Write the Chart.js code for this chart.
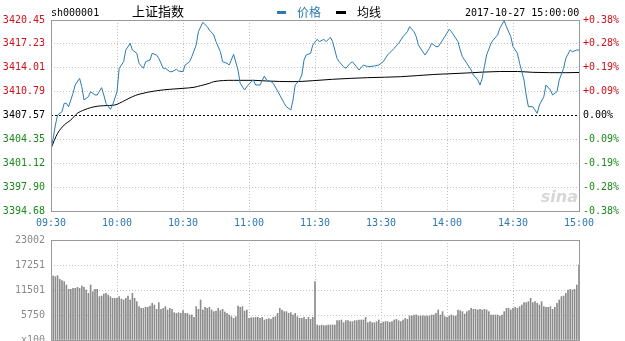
<!DOCTYPE html>
<html>
<head>
<meta charset="utf-8">
<script src="https://cdn.jsdelivr.net/npm/chart.js@4/dist/chart.umd.min.js"></script>
<style>
    body { margin: 0; background: #fff; width: 625px; height: 341px; overflow: hidden; position: relative; font-family: "DejaVu Sans Mono", monospace; }
    #priceChart { position: absolute; left: 0; top: 0; }
    #volChart { position: absolute; left: 0; top: 225px; }
    .t { position: absolute; white-space: nowrap; font-size: 10px; line-height: 12px; color: #000; }
    .cn { font-family: "Noto Sans CJK SC", sans-serif; }
    .dash { position: absolute; height: 3px; }
</style>
</head>
<body>
<canvas id="priceChart" width="625" height="232"></canvas>
<canvas id="volChart" width="625" height="116"></canvas>

<div class="t" style="left:51px;top:7px;">sh000001</div>
<div class="t cn" style="left:132px;top:3px;font-size:13px;line-height:16px;">上证指数</div>
<div class="dash" style="left:277px;top:11px;width:9px;background:#2b7bb0;"></div>
<div class="t cn" style="left:297px;top:4px;font-size:12px;line-height:16px;color:#2b7bb0;">价格</div>
<div class="dash" style="left:336px;top:11px;width:10px;background:#000;"></div>
<div class="t cn" style="left:357px;top:4px;font-size:12px;line-height:16px;">均线</div>
<div class="t" style="left:465px;top:7px;">2017-10-27 15:00:00</div>

<script>
'use strict';

// Previous close (0.00% line)
const prevClose = 3407.57;

// Time axis (minutes from 09:30, lunch break removed)
const timeTicks = [0, 30, 60, 90, 120, 150, 180, 210, 240];
const timeLabels = ['09:30', '10:00', '10:30', '11:00', '11:30', '13:30', '14:00', '14:30', '15:00'];

// Price axis ticks
const priceTicks = [3394.68, 3397.90, 3401.12, 3404.35, 3407.57, 3410.79, 3414.01, 3417.23, 3420.45];
const pctLabels = ['-0.38%', '-0.28%', '-0.19%', '-0.09%', '0.00%', '+0.09%', '+0.19%', '+0.28%', '+0.38%'];

// Price line (minute, value)
const priceMinutes = [0, 1, 2, 3, 5, 6, 7, 8, 10, 11, 13, 14, 15, 17, 18, 20, 21, 23, 24, 25, 27, 28, 30, 31, 33, 34, 36, 37, 39, 40,
    42, 43, 45, 46, 48, 49, 51, 52, 54, 55, 57, 58, 60, 61, 63, 64, 66, 67, 69, 71, 72, 74, 75, 77, 78, 80, 81, 83, 85, 86,
    88, 89, 91, 92, 93, 95, 97, 98, 100, 101, 104, 106, 107, 109, 110, 111, 113, 114, 115, 116, 118, 119, 121, 122, 124, 125, 127, 128, 130, 131,
    133, 134, 136, 137, 140, 142, 144, 147, 149, 151, 153, 156, 158, 160, 162, 163, 165, 166, 167, 169, 170, 172, 173, 175, 176, 178, 179, 181, 182, 183,
    185, 186, 187, 189, 191, 192, 194, 195, 196, 197, 198, 200, 201, 203, 204, 206, 207, 209, 210, 212, 213, 215, 216, 217, 219, 221, 222, 224, 225, 227,
    228, 230, 231, 233, 234, 236, 237, 239, 240];
const priceValues = [3403.14, 3404.49, 3406.28, 3407.63, 3408.08, 3409.21, 3409.21, 3408.75, 3410.56, 3411.68, 3412.58, 3411.45, 3409.66, 3410.10, 3410.78, 3410.33, 3410.33, 3411.32, 3410.33, 3409.21, 3408.40, 3408.98, 3410.78, 3413.93, 3414.82, 3416.40, 3417.31, 3416.40, 3415.96, 3414.61,
    3413.93, 3414.82, 3415.05, 3415.96, 3415.73, 3415.28, 3413.93, 3413.93, 3413.47, 3413.47, 3413.80, 3413.57, 3413.47, 3414.38, 3414.82, 3415.50, 3417.08, 3418.87, 3420.14, 3419.55, 3419.10, 3418.43, 3417.52, 3416.17, 3414.82, 3414.61, 3414.38, 3415.82, 3413.70, 3411.91,
    3411.01, 3411.45, 3412.13, 3412.35, 3411.68, 3411.68, 3412.89, 3412.35, 3412.13, 3411.91, 3410.33, 3409.21, 3408.75, 3408.31, 3409.66, 3411.68, 3412.35, 3413.03, 3415.05, 3415.73, 3415.96, 3417.08, 3417.85, 3417.52, 3417.85, 3417.52, 3418.12, 3417.52, 3415.28, 3414.82,
    3414.15, 3413.93, 3414.61, 3414.82, 3413.70, 3414.38, 3414.15, 3414.24, 3414.38, 3414.82, 3415.73, 3416.63, 3417.31, 3418.20, 3418.87, 3419.55, 3418.87, 3418.20, 3417.08, 3416.17, 3415.73, 3416.63, 3417.31, 3416.85, 3416.85, 3417.75, 3418.20, 3419.20, 3418.87, 3418.43,
    3417.52, 3416.40, 3415.50, 3414.61, 3413.70, 3413.03, 3412.35, 3411.68, 3412.58, 3414.15, 3415.73, 3417.31, 3417.75, 3418.43, 3419.33, 3420.36, 3419.55, 3418.20, 3416.85, 3415.96, 3414.61, 3412.35, 3410.33, 3408.75, 3408.75, 3407.86, 3408.98, 3410.10, 3411.68, 3411.01,
    3410.33, 3410.78, 3412.35, 3413.93, 3415.28, 3416.40, 3416.17, 3416.40, 3416.40];

// Average price line (minute, value)
const avgMinutes = [0, 3, 6, 9, 12, 15, 18, 21, 24, 29, 31, 34, 37, 40, 48, 54, 60, 65, 68, 72, 74, 83, 92, 98, 110, 119, 128, 144, 159, 174, 189, 204, 212, 219, 234, 240];
const avgValues = [3403.14, 3405.16, 3406.28, 3406.96, 3407.86, 3408.31, 3408.62, 3408.81, 3408.89, 3408.98, 3409.21, 3409.66, 3410.10, 3410.43, 3410.91, 3411.10, 3411.23, 3411.37, 3411.59, 3411.91,
    3412.13, 3412.31, 3412.31, 3412.22, 3412.13, 3412.26, 3412.45, 3412.67, 3412.80, 3413.10, 3413.30, 3413.50, 3413.50, 3413.39, 3413.34, 3413.37];

// Volume axis
const volTicks = [0, 5750, 11501, 17251, 23002];
const volTickLabels = ['x100', '5750', '11501', '17251', '23002'];

// Volume per minute, 09:30 .. 11:30 (m0..m120)
const volMorning = [14500, 14720, 14570, 14800, 13950, 13650, 13420, 12650, 11650, 11650, 11880, 11880, 12110, 11880, 12420, 12110, 11500, 10730, 12650, 11120,
    11650, 11650, 9970, 10120, 10580, 10730, 10350, 9970, 9580, 9580, 9580, 9970, 9430, 9200, 9580, 10120, 9200, 10730, 9580, 8820,
    7670, 7280, 7280, 7510, 7510, 7820, 8430, 8050, 7050, 8590, 7050, 7280, 7670, 6900, 7280, 7050, 6290, 6130, 6290, 6130,
    6750, 6130, 6130, 5750, 5750, 5210, 7670, 7050, 9200, 6900, 7510, 7280, 7510, 6900, 6520, 6670, 7280, 6750, 7050, 6440,
    6130, 5750, 5370, 4980, 5370, 7820, 7510, 7670, 6670, 6900, 4980, 5140, 5140, 5210, 5210, 4980, 5210, 4600, 4750, 4910,
    4750, 5210, 5370, 6130, 7280, 6900, 6520, 6520, 6130, 6290, 5750, 6130, 5370, 4980, 4980, 5210, 4750, 5210, 4750, 5210,
    13420];
// Volume per minute, 13:01 .. 15:00 (m121..m240)
const volAfternoon = [3450, 3300, 3450, 3300, 3300, 3450, 3450, 3450, 3450, 4450, 4450, 4600, 3990, 4450, 4450, 4220, 4220, 4450, 4450, 4600,
    4600, 4600, 5210, 3990, 4220, 3990, 3990, 4220, 4600, 3830, 4140, 4220, 4220, 4060, 4220, 4600, 4750, 4450, 4220, 4600,
    4980, 4750, 5520, 5520, 5750, 5750, 5520, 5520, 5520, 5520, 5520, 5520, 5750, 5750, 6130, 6900, 5750, 6520, 5370, 5210,
    5520, 5750, 5520, 5520, 6900, 6750, 6520, 5980, 6520, 6750, 7280, 7050, 7050, 6900, 7050, 6900, 7050, 6900, 6520, 5750,
    5750, 5750, 5750, 5520, 5750, 6520, 7280, 7280, 6900, 7280, 7510, 7280, 7670, 8050, 8590, 8590, 8820, 9580, 8590, 8820,
    8430, 8050, 8820, 7670, 7510, 7510, 7670, 7050, 7510, 8430, 9200, 9970, 10120, 10730, 11500, 11650, 11500, 11650, 12650, 17250];

const volumes = volMorning.concat(volAfternoon);

const monoFont = { family: 'DejaVu Sans Mono', size: 10 };
const gridGray = '#c4c4c4';

function priceColor(v) {
    if (Math.abs(v - prevClose) < 0.001) return '#000';
    return v > prevClose ? '#d0101a' : '#1a8a1a';
}

// Frame, time grid, previous-close line and watermark
const framePlugin = {
    id: 'frame',
    beforeDatasetsDraw(chart, args, opts) {
        const a = chart.chartArea;
        const ctx = chart.ctx;
        ctx.save();
        ctx.lineWidth = 1;
        if (opts.timeGrid) {
            // vertical dotted lines at the time ticks
            ctx.strokeStyle = gridGray;
            ctx.setLineDash([1, 2]);
            timeTicks.forEach((t) => {
                const x = Math.round(chart.scales.x.getPixelForValue(t)) + 0.5;
                ctx.beginPath();
                ctx.moveTo(x, a.top);
                ctx.lineTo(x, a.bottom);
                ctx.stroke();
            });
        }
        if (opts.zeroLine) {
            const y = Math.round(chart.scales.y.getPixelForValue(prevClose)) + 0.5;
            ctx.strokeStyle = '#000';
            ctx.setLineDash([2, 2]);
            ctx.beginPath();
            ctx.moveTo(a.left, y);
            ctx.lineTo(a.right, y);
            ctx.stroke();
            ctx.setLineDash([]);
            ctx.font = 'italic bold 16px "DejaVu Sans"';
            ctx.fillStyle = 'rgba(175,175,175,0.5)';
            ctx.textAlign = 'right';
            ctx.fillText('sina', a.right - 1, a.bottom - 9);
        }
        ctx.restore();
    },
    afterDraw(chart) {
        const a = chart.chartArea;
        const ctx = chart.ctx;
        ctx.save();
        ctx.strokeStyle = '#9a9a9a';
        ctx.lineWidth = 1;
        ctx.strokeRect(Math.round(a.left) + 0.5, Math.round(a.top) + 0.5,
            Math.round(a.right - a.left), Math.round(a.bottom - a.top));
        ctx.restore();
    }
};

function timeAxis(showLabels) {
    return {
        type: 'linear',
        min: 0,
        max: 240,
        offset: false,
        afterBuildTicks: (s) => { s.ticks = timeTicks.map(v => ({ value: v })); },
        afterFit: (s) => { s.height = showLabels ? 21 : 0; },
        ticks: {
            display: showLabels,
            autoSkip: false,
            maxRotation: 0,
            padding: 6,
            color: '#2f78b0',
            font: monoFont,
            callback: (v) => timeLabels[timeTicks.indexOf(v)]
        },
        grid: { display: false, drawTicks: false, offset: false },
        border: { display: false }
    };
}

new Chart(document.getElementById('priceChart'), {
    type: 'line',
    data: {
        datasets: [{
            label: '价格',
            data: priceMinutes.map((m, i) => ({ x: m, y: priceValues[i] })),
            borderColor: '#2b7bb0',
            borderWidth: 1,
            pointRadius: 0,
            tension: 0
        }, {
            label: '均线',
            data: avgMinutes.map((m, i) => ({ x: m, y: avgValues[i] })),
            borderColor: '#000',
            borderWidth: 1,
            pointRadius: 0,
            cubicInterpolationMode: 'monotone'
        }]
    },
    options: {
        responsive: false,
        animation: false,
        layout: { padding: { top: 20, left: 0, right: 0, bottom: 0 } },
        plugins: {
            legend: { display: false },
            tooltip: { enabled: false },
            frame: { zeroLine: true, timeGrid: true }
        },
        scales: {
            x: timeAxis(true),
            y: {
                position: 'left',
                min: priceTicks[0],
                max: priceTicks[priceTicks.length - 1],
                afterBuildTicks: (s) => { s.ticks = priceTicks.map(v => ({ value: v })); },
                afterFit: (s) => { s.width = 51; },
                ticks: {
                    padding: 6,
                    font: monoFont,
                    color: (ctx) => priceColor(ctx.tick.value),
                    callback: (v) => v.toFixed(2)
                },
                grid: {
                    drawTicks: false,
                    color: (ctx) => (ctx.tick && Math.abs(ctx.tick.value - prevClose) < 0.001) ? 'rgba(0,0,0,0)' : gridGray
                },
                border: { display: false, dash: [1, 2] }
            },
            y2: {
                position: 'right',
                min: priceTicks[0],
                max: priceTicks[priceTicks.length - 1],
                afterBuildTicks: (s) => { s.ticks = priceTicks.map(v => ({ value: v })); },
                afterFit: (s) => { s.width = 46; },
                ticks: {
                    padding: 4,
                    font: monoFont,
                    color: (ctx) => priceColor(ctx.tick.value),
                    callback: (v) => pctLabels[priceTicks.indexOf(v)]
                },
                grid: { display: false, drawTicks: false },
                border: { display: false }
            }
        }
    },
    plugins: [framePlugin]
});

new Chart(document.getElementById('volChart'), {
    type: 'bar',
    data: {
        datasets: [{
            label: '成交量',
            data: volumes.map((v, i) => ({ x: i, y: v })),
            backgroundColor: '#8c8c8c',
            barThickness: 1,
            borderWidth: 0
        }]
    },
    options: {
        responsive: false,
        animation: false,
        layout: { padding: { top: 15, left: 0, right: 46, bottom: 1 } },
        plugins: {
            legend: { display: false },
            tooltip: { enabled: false },
            frame: { zeroLine: false, timeGrid: true }
        },
        scales: {
            x: timeAxis(false),
            y: {
                position: 'left',
                min: 0,
                max: volTicks[volTicks.length - 1],
                afterBuildTicks: (s) => { s.ticks = volTicks.map(v => ({ value: v })); },
                afterFit: (s) => {
                    s.width = 51;
                    // let the bottom label hang below the canvas, as in the original
                    s.paddingTop = 0;
                    s.paddingBottom = 0;
                },
                ticks: {
                    padding: 6,
                    font: monoFont,
                    color: '#8a8a8a',
                    callback: (v) => volTickLabels[volTicks.indexOf(v)]
                },
                grid: { color: gridGray, drawTicks: false },
                border: { display: false, dash: [1, 2] }
            }
        }
    },
    plugins: [framePlugin]
});
</script>
</body>
</html>
